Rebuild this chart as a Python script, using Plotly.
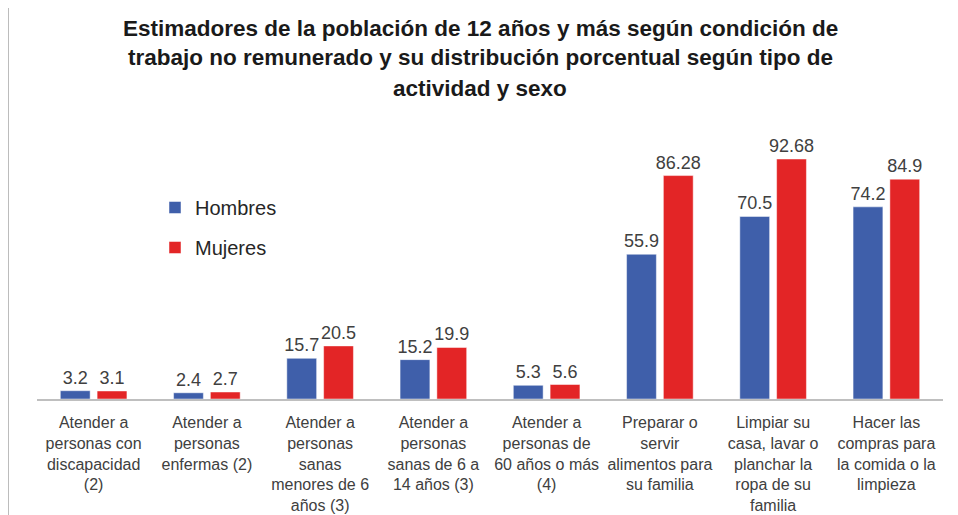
import plotly.graph_objects as go

categories = [
    "Atender a<br>personas con<br>discapacidad<br>(2)",
    "Atender a<br>personas<br>enfermas (2)",
    "Atender a<br>personas<br>sanas<br>menores de 6<br>años (3)",
    "Atender a<br>personas<br>sanas de 6 a<br>14 años (3)",
    "Atender a<br>personas de<br>60 años o más<br>(4)",
    "Preparar o<br>servir<br>alimentos para<br>su familia",
    "Limpiar su<br>casa, lavar o<br>planchar la<br>ropa de su<br>familia",
    "Hacer las<br>compras para<br>la comida o la<br>limpieza",
]
hombres = [3.2, 2.4, 15.7, 15.2, 5.3, 55.9, 70.5, 74.2]
mujeres = [3.1, 2.7, 20.5, 19.9, 5.6, 86.28, 92.68, 84.9]
hombres_labels = ["3.2", "2.4", "15.7", "15.2", "5.3", "55.9", "70.5", "74.2"]
mujeres_labels = ["3.1", "2.7", "20.5", "19.9", "5.6", "86.28", "92.68", "84.9"]
title_lines = [
    "Estimadores de la población de 12 años y más según condición de",
    "trabajo no remunerado y su distribución porcentual según tipo de",
    "actividad y sexo",
]

# page body has an 8px margin: design in reference pixel coordinates, shifted
OFF = 8
W, H = 958 - OFF, 515 - OFF
PL, PR, PT, PB = 37, 943, 120, 399          # plot area in reference pixels
L, R, T, B = PL - OFF, (W + OFF) - PR, PT - OFF, (H + OFF) - PB
plot_w = PR - PL
plot_h = PB - PT

def px_x(px):
    return (px - PL) / plot_w

def px_y(py):
    return (PB - py) / plot_h

FONT = "Liberation Sans, Arial, sans-serif"
BLUE = "#3F5FAA"
RED = "#E32526"

fig = go.Figure()
fig.add_trace(go.Bar(
    x=categories, y=hombres, name="Hombres", marker_color=BLUE,
    marker_line=dict(color="rgba(255,255,255,0.6)", width=0.8),
    text=hombres_labels, textposition="outside", cliponaxis=False,
    constraintext="none",
    textfont=dict(size=18, color="#404040", family=FONT),
    legendgroup="h",
))
fig.add_trace(go.Bar(
    x=categories, y=mujeres, name="Mujeres", marker_color=RED,
    marker_line=dict(color="rgba(255,255,255,0.6)", width=0.8),
    text=mujeres_labels, textposition="outside", cliponaxis=False,
    constraintext="none",
    textfont=dict(size=18, color="#404040", family=FONT),
    legendgroup="m",
))

annotations = []
for i, line in enumerate(title_lines):
    annotations.append(dict(
        text="<b>" + line + "</b>", xref="paper", yref="paper",
        x=px_x(480), y=px_y(28 + 30 * i), xanchor="center", yanchor="middle",
        showarrow=False, font=dict(size=22.5, color="#1a1a1a", family=FONT),
    ))

shapes = [
    dict(type="line", xref="paper", yref="paper",
         x0=px_x(8), x1=px_x(958), y0=px_y(5), y1=px_y(5),
         line=dict(color="#A6A6A6", width=1.5)),
    dict(type="line", xref="paper", yref="paper",
         x0=px_x(8), x1=px_x(8), y0=px_y(5), y1=px_y(515),
         line=dict(color="#A6A6A6", width=1.5)),
]

fig.update_layout(
    width=W, height=H,
    margin=dict(l=L, r=R, t=T, b=B, autoexpand=False),
    paper_bgcolor="white", plot_bgcolor="white",
    barmode="group", bargap=0.35, bargroupgap=0.19,
    font=dict(family=FONT, color="#404040"),
    showlegend=True,
    legend=dict(
        x=px_x(155), y=px_y(188), xanchor="left", yanchor="top",
        font=dict(size=20, color="#262626", family=FONT),
        bgcolor="rgba(0,0,0,0)", tracegroupgap=11,
        traceorder="grouped",
    ),
    xaxis=dict(
        showgrid=False, showline=True, linecolor="#BFBFBF", linewidth=1.5,
        ticks="", tickfont=dict(size=16, color="#404040", family=FONT),
        tickangle=0, ticklabelstandoff=8,
    ),
    yaxis=dict(
        range=[0, plot_h / (240 / 92.68)], visible=False, showgrid=False,
        zeroline=False,
    ),
    annotations=annotations,
    shapes=shapes,
)

fig.write_html("out.html")
